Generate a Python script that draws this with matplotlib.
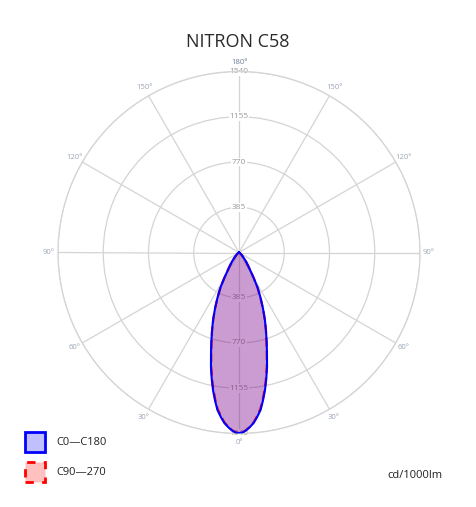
import numpy as np
import matplotlib.pyplot as plt
from matplotlib.patches import Rectangle

plt.rcParams['font.family'] = ['Open Sans', 'DejaVu Sans']

# polar intensity data (cd/1000lm), gamma angle 0..90 deg, mirrored to both sides
angles = [0, 1.1, 2.2, 3.4, 4.9, 6.2, 7.8, 9.2, 10.7, 12.1, 13.7, 15.35, 17.1, 19.1,
          21.1, 23.2, 25.5, 27.9, 30.1, 33.7, 37.9, 42, 50, 60, 75, 90]
c0_c180 = [1536, 1532, 1516, 1492, 1456, 1412, 1352, 1276, 1191, 1105, 1007, 900, 801, 702,
           611, 518, 424, 337, 246, 153, 97, 57, 25, 8, 2, 0]
c90_270 = [1536, 1531, 1514, 1489, 1451, 1405, 1343, 1266, 1181, 1096, 999, 893, 796, 698,
           608, 516, 423, 336, 245, 152, 96, 57, 25, 8, 2, 0]

rings = [385, 770, 1155, 1540]
angle_labels = ["0°", "30°", "60°", "90°", "120°", "150°", "180°"]
title = "NITRON C58"
series_names = ["C0—C180", "C90—270"]
unit = "cd/1000lm"


def mirror(a, v):
    a = np.radians(a)
    th = np.concatenate([-a[::-1], a[1:]])
    r = np.concatenate([v[::-1], v[1:]])
    return th, r


fig = plt.figure(figsize=(4.76, 5.07), dpi=100)
ax = fig.add_axes([58 / 476, 73.5 / 507, 362 / 476, 362 / 507], projection="polar")
ax.set_theta_zero_location("S")
ax.set_ylim(0, 1540)
ax.set_yticks(rings)
ax.set_yticklabels([])
ax.set_xticks(np.radians(np.arange(0, 360, 30)))
ax.set_xticklabels([])
ax.grid(True, color="#d4d4d4", lw=0.9)
ax.spines["polar"].set_color("#d4d4d4")
ax.spines["polar"].set_linewidth(0.9)
ax.set_axisbelow(True)

# radial labels along the vertical axis (top and bottom)
for r in rings:
    for t in (0, np.pi):
        ax.text(t, r, str(r), ha="center", va="center", fontsize=6, color="#9a9a9a",
                bbox=dict(boxstyle="square,pad=0.1", fc="white", ec="none"), zorder=2)

# angle labels around the circle
for i, lab in enumerate(angle_labels):
    deg = i * 30
    for t in {np.radians(deg), np.radians(-deg)}:
        ax.text(t, 1540 * 1.05, lab, ha="center", va="center", fontsize=5.5,
                color="#9aa6b6", clip_on=False)

th1, r1 = mirror(angles, c0_c180)
th2, r2 = mirror(angles, c90_270)
ax.fill(th1, r1, color="#0000ff", alpha=0.25, lw=0, zorder=3)
ax.fill(th2, r2, color="#ff0000", alpha=0.18, lw=0, zorder=3)
ax.plot(th2, r2, color="red", lw=1.6, ls=(0, (4, 2)), zorder=4)
ax.plot(th1, r1, color="blue", lw=1.5, zorder=5)

fig.text(238 / 476, 0.917, title, ha="center", va="center", fontsize=13, color="#2a2a2a")

fig.add_artist(Rectangle((25 / 476, 55 / 507), 20 / 476, 20 / 507, transform=fig.transFigure,
                         fc="#c0c0ff", ec="blue", lw=2))
fig.add_artist(Rectangle((25 / 476, 25 / 507), 20 / 476, 20 / 507, transform=fig.transFigure,
                         fc="#ffc0c0", ec="red", lw=2, ls=(0, (3, 3))))
fig.text(56 / 476, 0.128, series_names[0], ha="left", va="center", fontsize=8, color="#222222")
fig.text(56 / 476, 0.069, series_names[1], ha="left", va="center", fontsize=8, color="#222222")
fig.text(443 / 476, 0.063, unit, ha="right", va="center", fontsize=8, color="#222222")

fig.savefig("out.png", dpi=100)
